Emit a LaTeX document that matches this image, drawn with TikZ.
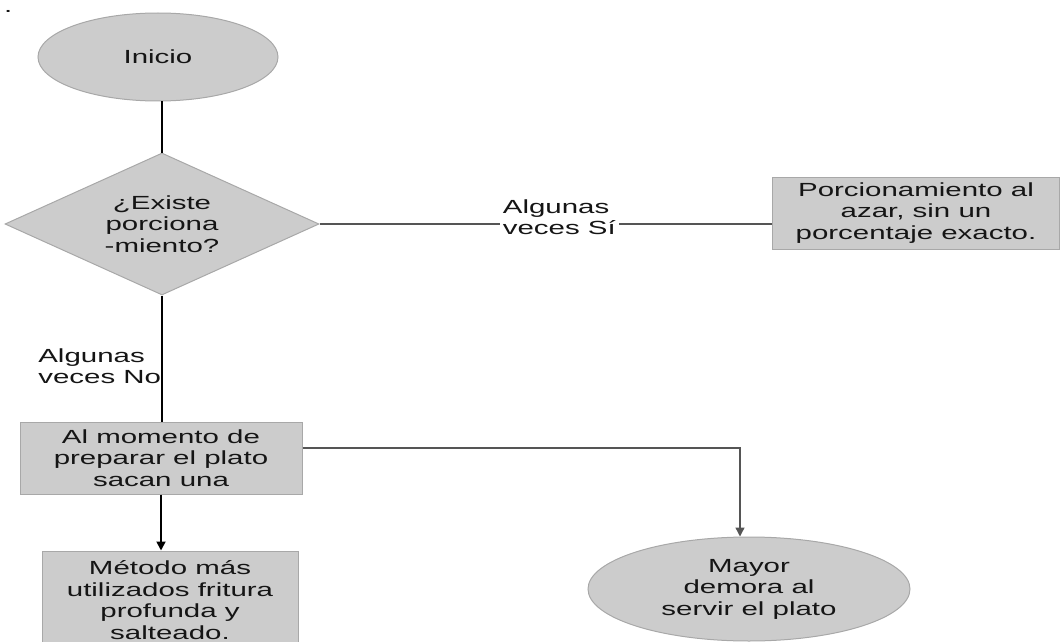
\documentclass[tikz,border=0pt]{standalone}
\usepackage{fontspec}
\setmainfont{Liberation Sans}[FakeStretch=1.55]
\usetikzlibrary{shapes.geometric,arrows.meta}
\definecolor{boxfill}{HTML}{CCCCCC}
\definecolor{boxedge}{HTML}{A8A8A8}
\definecolor{textc}{HTML}{151515}
\definecolor{grayline}{HTML}{555555}
\begin{document}
\begin{tikzpicture}[x=1pt,y=1pt,
  every node/.style={font=\fontsize{19}{21.5}\selectfont, text=textc},
  shapebox/.style={draw=boxedge, line width=1pt, fill=boxfill, align=center, inner sep=0pt},
  procbox/.style={shapebox, rectangle},
  termbox/.style={shapebox, ellipse},
  decbox/.style={shapebox, diamond},
  conn/.style={line width=1.8pt, draw=black},
  sideconn/.style={line width=1.4pt, draw=grayline},
  tip/.style={-{Triangle[width=9pt,length=9pt]}},
  lbl/.style={align=left, inner sep=0pt}
]
\useasboundingbox (0,0) rectangle (1061,-642);

\node[anchor=base west, inner sep=0pt] (dot) at (4,-13) {.};

\node[termbox, minimum width=240, minimum height=88] (inicio) at (158,-57) {Inicio};
\node[decbox, aspect=2.2, minimum width=314, minimum height=142] (dia) at (162,-224)
  {¿Existe\\porciona\\-miento?};
\node[procbox, minimum width=287, minimum height=72] (porc) at (916,-213)
  {Porcionamiento al\\azar, sin un\\porcentaje exacto.};
\node[procbox, minimum width=282, minimum height=72] (box1) at (161,-458)
  {Al momento de\\preparar el plato\\sacan una};
\node[procbox, minimum width=256, minimum height=98] (metodo) at (170,-600)
  {Método más\\utilizados fritura\\profunda y\\salteado.};
\node[termbox, minimum width=322, minimum height=104] (mayor) at (749,-589)
  {Mayor\\demora al\\servir el plato};

\draw[conn] (dia.north |- inicio.south) -- (dia.north);
\draw[conn] (dia.south) -- node[lbl, pos=0.56, anchor=east] (lblno) {Algunas\\veces No} (dia.south |- box1.north);
\draw[sideconn] (dia.east) -- node[lbl, pos=0.53, yshift=7pt, fill=white, inner sep=3pt] (lblsi) {Algunas\\veces Sí} (dia.east -| porc.west);
\draw[conn, tip] (box1.south) -- (box1.south |- metodo.north);
\draw[sideconn, tip] ([yshift=10pt]box1.east) -| ([xshift=-9pt]mayor.north);
\end{tikzpicture}
\end{document}
